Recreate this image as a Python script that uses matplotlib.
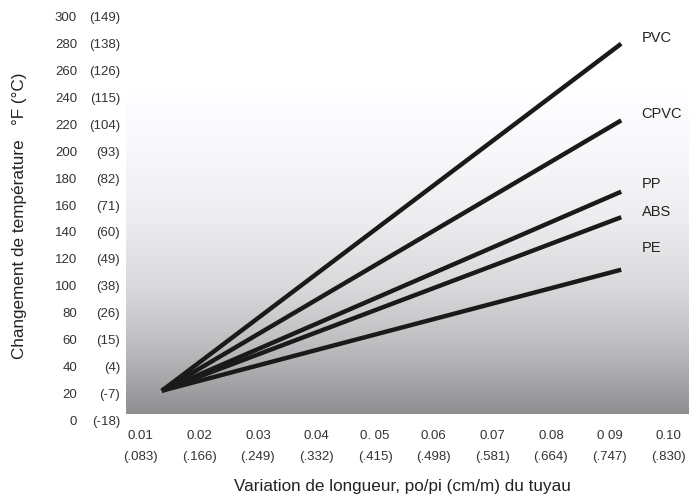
import numpy as np
import matplotlib
matplotlib.use("Agg")
import matplotlib.pyplot as plt

plt.rcParams["font.family"] = ["Liberation Sans", "DejaVu Sans"]

# data
materials = ["PVC", "CPVC", "PP", "ABS", "PE"]
start_x = 0.0136
start_temp = 23
end_x = 0.092
end_temp = [281, 224, 171, 152, 113]
label_temp = [285, 229, 177, 156, 129]

x_ticks = [0.01, 0.02, 0.03, 0.04, 0.05, 0.06, 0.07, 0.08, 0.09, 0.10]
x_labels = ["0.01", "0.02", "0.03", "0.04", "0. 05", "0.06", "0.07", "0.08", "0 09", "0.10"]
x_labels_cm = ["(.083)", "(.166)", "(.249)", "(.332)", "(.415)", "(.498)", "(.581)", "(.664)", "(.747)", "(.830)"]
y_ticks = [0, 20, 40, 60, 80, 100, 120, 140, 160, 180, 200, 220, 240, 260, 280, 300]
y_labels_c = ["(-18)", "(-7)", "(4)", "(15)", "(26)", "(38)", "(49)", "(60)", "(71)",
              "(82)", "(93)", "(104)", "(115)", "(126)", "(138)", "(149)"]

W, H = 689, 498
fig = plt.figure(figsize=(W / 100, H / 100), dpi=100)
ax = fig.add_axes([126 / W, (H - 421.7) / H, 563 / W, 421.7 / H])
xmin, xmax = 0.00749, 0.10357
ymin, ymax = 0, 313.5
ax.set_xlim(xmin, xmax)
ax.set_ylim(ymin, ymax)
ax.axis("off")

# background gradient
stops_y = [5.7, 30, 60, 100, 150, 200, 250, ymax]
stops_c = [0x8e, 0xa6, 0xc0, 0xd9, 0xed, 0xf8, 0xff, 0xff]
rows = np.linspace(5.7, ymax, 400)
g = np.interp(rows, stops_y, stops_c) / 255.0
img = np.stack([g, g, np.clip(g + 0.012, 0, 1)], axis=-1)[:, None, :]
ax.imshow(img, extent=(xmin, xmax, 5.7, ymax), origin="lower", aspect="auto", zorder=0)

for name, t_end, t_lab in zip(materials, end_temp, label_temp):
    ax.plot([start_x, end_x], [start_temp, t_end], color="#1a1a1a", lw=3.2,
            solid_capstyle="butt", zorder=2)
    ax.text(0.0955, t_lab, name, fontsize=10.5, color="#222222", va="center", ha="left")

tick_col = "#333333"
for v, a, b in zip(x_ticks, x_labels, x_labels_cm):
    ax.text(v, -10.5, a, fontsize=9.5, color=tick_col, ha="center", va="center", clip_on=False)
    ax.text(v, -26.5, b, fontsize=9.5, color=tick_col, ha="center", va="center", clip_on=False)

for v, c in zip(y_ticks, y_labels_c):
    fig.text(77 / W, 1 - (421.7 - v * 1.345) / H, str(v), fontsize=9.5, color=tick_col,
             ha="right", va="center")
    fig.text(120 / W, 1 - (421.7 - v * 1.345) / H, c, fontsize=9.5, color=tick_col,
             ha="right", va="center")

fig.text(402 / W, 1 - 486 / H, "Variation de longueur, po/pi (cm/m) du tuyau",
         fontsize=12.3, color="#222222", ha="center", va="center")
fig.text(20 / W, 1 - 216 / H, "Changement de température   °F (°C)",
         fontsize=12.3, color="#222222", ha="center", va="center", rotation=90)

fig.savefig("out.png", dpi=100)
